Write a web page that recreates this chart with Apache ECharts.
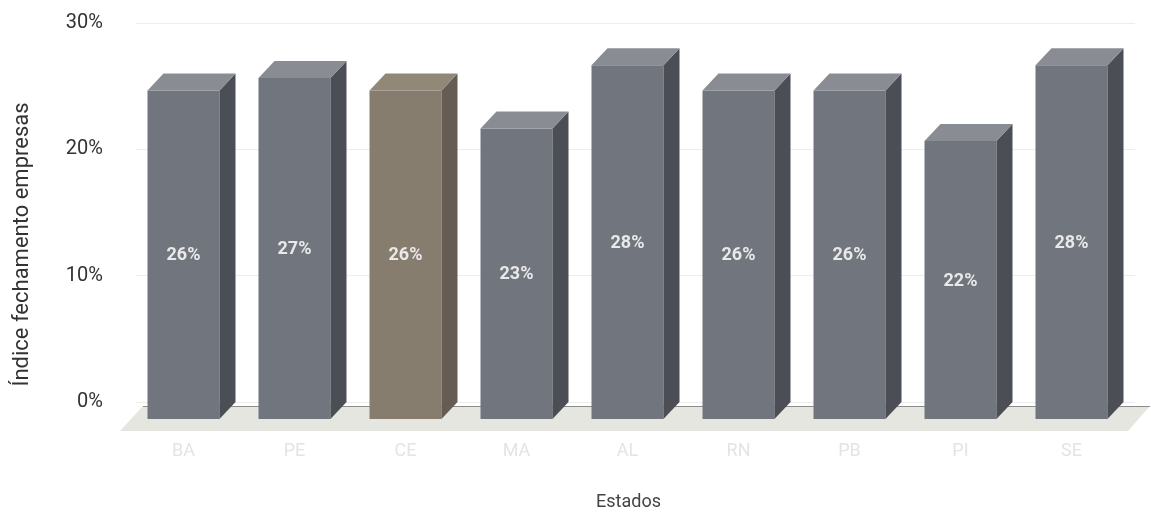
<!DOCTYPE html>
<html>
<head>
<meta charset="utf-8">
<script src="https://cdn.jsdelivr.net/npm/echarts@6/dist/echarts.min.js"></script>
<style>
  html, body { margin: 0; padding: 0; background: #fff; }
  #grafico { width: 1151px; height: 516px; }
</style>
</head>
<body>
<div id="grafico"></div>
<script>
// dados
var estados = ['BA', 'PE', 'CE', 'MA', 'AL', 'RN', 'PB', 'PI', 'SE'];
var indice = [26, 27, 26, 23, 28, 26, 26, 22, 28];
var ticksY = [0, 10, 20, 30];
var destaque = 'CE';

var chart = echarts.init(document.getElementById('grafico'));

// cores das faces da coluna 3D
var cinza = { frente: '#71767e', lado: '#4b4e55', topo: '#898c92' };
var marrom = { frente: '#877d6e', lado: '#655d53', topo: '#918878' };

var larg = 72, dx = 16, dy = 17;
var fonte = 'Roboto, "Liberation Sans", Arial, sans-serif';

function colunas3d(params, api) {
  var i = api.value(0);
  var v = api.value(1);
  var pTopo = api.coord([i, v]);
  var pBase = api.coord([i, 0]);
  var c = estados[i] === destaque ? marrom : cinza;
  var x0 = pTopo[0] - larg / 2 - dx / 2;
  var y1 = pTopo[1] + dy;
  var y2 = pBase[1] + dy;
  return {
    type: 'group',
    children: [
      { type: 'rect', shape: { x: x0, y: y1, width: larg, height: y2 - y1 }, style: { fill: c.frente } },
      { type: 'polygon', shape: { points: [[x0 + larg, y1], [x0 + larg + dx, y1 - dy], [x0 + larg + dx, y2 - dy], [x0 + larg, y2]] }, style: { fill: c.lado } },
      { type: 'polygon', shape: { points: [[x0, y1], [x0 + dx, y1 - dy], [x0 + larg + dx, y1 - dy], [x0 + larg, y1]] }, style: { fill: c.topo } },
      {
        type: 'text', x: x0 + larg / 2, y: (y1 + y2) / 2 + 1,
        style: {
          text: Math.round(v) + '%', fill: '#e9e9e9', align: 'center', verticalAlign: 'middle',
          font: 'bold 18px ' + fonte
        }
      }
    ]
  };
}

var gLeft = 136, gRight = 16, gTop = 23, gBottom = 110;
var yBase = 516 - gBottom;

chart.setOption({
  backgroundColor: '#fff',
  animation: false,
  textStyle: { fontFamily: fonte },
  grid: { left: gLeft, right: gRight, top: gTop, bottom: gBottom },
  graphic: [{
    type: 'polygon', z: -1, silent: true,
    shape: { points: [[gLeft + 7, yBase], [1150, yBase], [1128, yBase + 25], [120, yBase + 25]] },
    style: { fill: '#e6e6e1' }
  }, {
    type: 'line', z: -1, silent: true,
    shape: { x1: gLeft + 7, y1: yBase + 0.5, x2: 1150, y2: yBase + 0.5 },
    style: { stroke: '#8c8c8c', lineWidth: 1 }
  }],
  xAxis: {
    type: 'category',
    data: estados,
    name: 'Estados',
    nameLocation: 'middle',
    nameGap: 91,
    nameTextStyle: { fontSize: 18, color: '#444', padding: [0, 14, 0, 0] },
    axisLine: { show: false },
    axisTick: { show: false },
    axisLabel: { margin: 40, fontSize: 18, color: '#e4e4e4', padding: [0, 16, 0, 0] },
    z: 3
  },
  yAxis: {
    type: 'value',
    min: ticksY[0],
    max: ticksY[ticksY.length - 1],
    interval: 10,
    name: 'Índice fechamento empresas',
    nameLocation: 'middle',
    nameGap: 103,
    nameTextStyle: { fontSize: 22, color: '#333', padding: [0, 64, 0, 0] },
    axisLine: { show: false },
    axisTick: { show: false },
    axisLabel: { margin: 33, fontSize: 20, color: '#333', formatter: '{value}%' },
    splitLine: { show: true, lineStyle: { color: '#ededed', width: 1 } }
  },
  series: [{
    type: 'custom',
    renderItem: colunas3d,
    encode: { x: 0, y: 1 },
    data: estados.map(function (e, i) { return [i, indice[i]]; }),
    z: 4
  }]
});
</script>
</body>
</html>
